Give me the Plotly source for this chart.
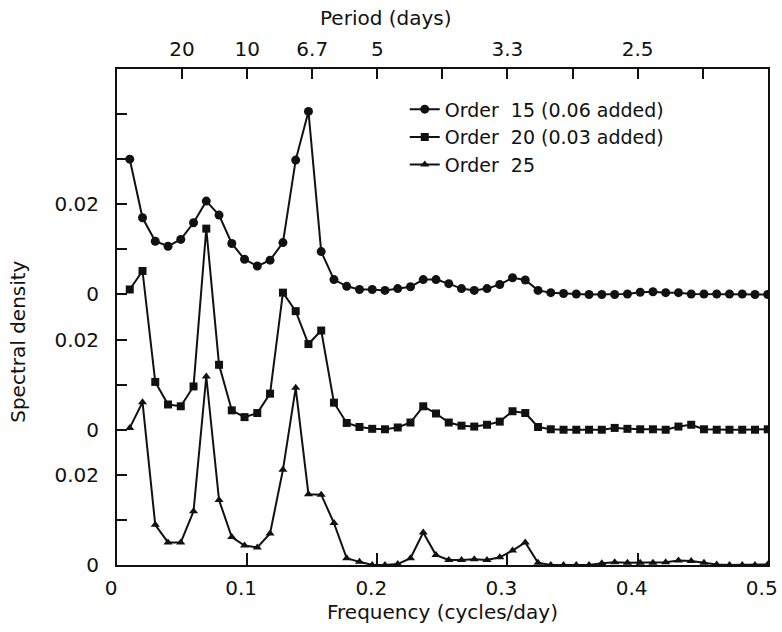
import plotly.graph_objects as go

# Frequencies (cycles/day), 51 estimates
freq = [0.0098, 0.0196, 0.0294, 0.0392, 0.0490, 0.0588, 0.0686, 0.0784, 0.0882, 0.0980,
        0.1078, 0.1176, 0.1275, 0.1373, 0.1471, 0.1569, 0.1667, 0.1765, 0.1863, 0.1961,
        0.2059, 0.2157, 0.2255, 0.2353, 0.2451, 0.2549, 0.2647, 0.2745, 0.2843, 0.2941,
        0.3039, 0.3137, 0.3235, 0.3333, 0.3431, 0.3529, 0.3627, 0.3725, 0.3824, 0.3922,
        0.4020, 0.4118, 0.4216, 0.4314, 0.4412, 0.4510, 0.4608, 0.4706, 0.4804, 0.4902,
        0.5000]

# Spectral density estimates (before offsets)
order15 = [0.0300, 0.0170, 0.0118, 0.0107, 0.0122, 0.0159, 0.0207, 0.0176, 0.0113, 0.0078,
           0.0063, 0.0076, 0.0115, 0.0298, 0.0406, 0.0095, 0.0033, 0.0018, 0.0011, 0.0011,
           0.0009, 0.0013, 0.0017, 0.0033, 0.0033, 0.0024, 0.0013, 0.0009, 0.0013, 0.0022,
           0.0037, 0.0032, 0.0009, 0.0004, 0.0002, 0.0001, 0.0000, 0.0000, 0.0000, 0.0001,
           0.0005, 0.0006, 0.0004, 0.0004, 0.0001, 0.0001, 0.0001, 0.0001, 0.0001, 0.0000,
           0.0000]
order20 = [0.0311, 0.0352, 0.0106, 0.0056, 0.0052, 0.0096, 0.0446, 0.0144, 0.0043, 0.0028,
           0.0037, 0.0080, 0.0304, 0.0263, 0.0190, 0.0220, 0.0060, 0.0015, 0.0006, 0.0002,
           0.0001, 0.0005, 0.0016, 0.0052, 0.0036, 0.0016, 0.0009, 0.0007, 0.0011, 0.0018,
           0.0041, 0.0037, 0.0006, 0.0001, 0.0000, 0.0000, 0.0000, 0.0000, 0.0004, 0.0002,
           0.0001, 0.0001, 0.0000, 0.0007, 0.0011, 0.0001, 0.0000, 0.0000, 0.0000, 0.0000,
           0.0001]
order25 = [0.0304, 0.0361, 0.0089, 0.0050, 0.0050, 0.0119, 0.0418, 0.0144, 0.0062, 0.0043,
           0.0039, 0.0070, 0.0211, 0.0393, 0.0157, 0.0156, 0.0093, 0.0015, 0.0007, 0.0000,
           0.0000, 0.0002, 0.0015, 0.0072, 0.0022, 0.0011, 0.0011, 0.0013, 0.0011, 0.0017,
           0.0032, 0.0050, 0.0005, 0.0000, 0.0000, 0.0000, 0.0000, 0.0004, 0.0006, 0.0005,
           0.0005, 0.0005, 0.0006, 0.0010, 0.0009, 0.0005, 0.0001, 0.0000, 0.0000, 0.0000,
           0.0001]

offset15 = 0.06
offset20 = 0.03

# Axis ticks
x_ticks = [0, 0.1, 0.2, 0.3, 0.4, 0.5]
x_ticktext = ["0", "0.1", "0.2", "0.3", "0.4", "0.5"]
period_ticks = [0.05, 0.10, 0.15, 0.20, 0.25, 0.30, 0.35, 0.40, 0.45]
period_text = ["20", "10", "6.7", "5", "", "3.3", "", "2.5", ""]
y_ticks = [0, 0.01, 0.02, 0.03, 0.04, 0.05, 0.06, 0.07, 0.08, 0.09, 0.10, 0.11]
y_text = ["0", "", "0.02", "0", "", "0.02", "0", "", "0.02", "", "", ""]

FONT = "DejaVu Sans"
BLACK = "#111111"

fig = go.Figure()
fig.add_trace(go.Scatter(
    x=freq, y=[v + offset15 for v in order15], mode="lines+markers",
    name="Order  15 (0.06 added)",
    line=dict(color=BLACK, width=2), marker=dict(symbol="circle", size=9, color=BLACK)))
fig.add_trace(go.Scatter(
    x=freq, y=[v + offset20 for v in order20], mode="lines+markers",
    name="Order  20 (0.03 added)",
    line=dict(color=BLACK, width=2), marker=dict(symbol="square", size=8, color=BLACK)))
fig.add_trace(go.Scatter(
    x=freq, y=order25, mode="lines+markers",
    name="Order  25",
    line=dict(color=BLACK, width=2), marker=dict(symbol="triangle-up", size=8, color=BLACK)))
# trace on the top (period) axis so it is drawn
fig.add_trace(go.Scatter(x=[0, 0.5], y=[None, None], xaxis="x2", showlegend=False,
                         hoverinfo="skip", mode="lines"))

XR = [0, 0.5002]

fig.update_layout(
    width=782, height=632,
    margin=dict(l=117, r=14, t=69, b=67, autoexpand=False),
    paper_bgcolor="white", plot_bgcolor="white",
    font=dict(family=FONT, size=18, color=BLACK),
    showlegend=True,
    legend=dict(x=0.442, y=0.957, xanchor="left", yanchor="top",
                bgcolor="rgba(0,0,0,0)", font=dict(size=19), tracegroupgap=0),
    xaxis=dict(range=XR, tickvals=x_ticks, ticktext=x_ticktext,
               ticks="inside", ticklen=12, tickwidth=1.5, tickcolor=BLACK,
               ticklabeloverflow="allow", automargin=False, ticklabelshift=-6,
               ticklabelstandoff=4,
               showline=True, linecolor=BLACK, linewidth=2, mirror=True,
               showgrid=False, zeroline=False, tickfont=dict(size=20),
               title=dict(text="Frequency (cycles/day)", font=dict(size=20), standoff=2)),
    xaxis2=dict(range=XR, overlaying="x", side="top", anchor="y",
                tickvals=period_ticks, ticktext=period_text, automargin=False,
                ticks="inside", ticklen=10, tickwidth=1.5, tickcolor=BLACK,
                ticklabelstandoff=8,
                showline=False, showgrid=False, zeroline=False, tickfont=dict(size=20)),
    yaxis=dict(range=[0, 0.11], tickvals=y_ticks, ticktext=y_text, automargin=False,
               ticks="inside", ticklen=10, tickwidth=1.5, tickcolor=BLACK,
               ticklabelstandoff=12,
               showline=True, linecolor=BLACK, linewidth=2, mirror=True,
               showgrid=False, zeroline=False, tickfont=dict(size=20)),
    annotations=[
        dict(text="Period (days)", xref="paper", yref="paper", x=0.413, y=1.0,
             yanchor="middle", yshift=51, showarrow=False, font=dict(size=20)),
        dict(text="Spectral density", xref="paper", yref="paper", x=0, xshift=-99,
             xanchor="center", yanchor="middle",
             y=0.45, textangle=-90, showarrow=False, font=dict(size=20)),
    ],
)

fig.write_html("out.html")
